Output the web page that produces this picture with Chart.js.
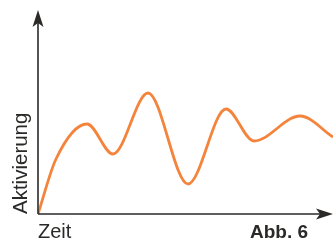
<!DOCTYPE html>
<html>
<head>
<meta charset="utf-8">
<script src="https://cdn.jsdelivr.net/npm/chart.js@4"></script>
<style>
  html, body { margin: 0; padding: 0; background: #fff; }
  #wrap { width: 333px; height: 241px; position: relative; }
</style>
</head>
<body>
<div id="wrap"><canvas id="chart"></canvas></div>
<script>
// Zeit (x) and Aktivierung (y) values
const zeit = [0, 18, 49, 75, 110, 150, 188, 216, 262, 295];
const aktivierung = [0, 55, 90, 60, 121, 30, 105, 73, 98, 77];

const xLabel = 'Zeit';
const yLabel = 'Aktivierung';
const figLabel = 'Abb. 6';

const ink = '#2b2a29';

// axes with arrow heads + labels
const axisPlugin = {
  id: 'axes',
  afterDraw(chart) {
    const { ctx, chartArea } = chart;
    const x0 = chartArea.left, y0 = chartArea.bottom;
    ctx.save();
    ctx.strokeStyle = ink;
    ctx.fillStyle = ink;
    ctx.lineWidth = 1.6;
    ctx.beginPath();
    ctx.moveTo(x0, y0);
    ctx.lineTo(x0, chartArea.top + 8);
    ctx.moveTo(x0, y0);
    ctx.lineTo(chartArea.right - 8, y0);
    ctx.stroke();

    // y arrow
    const t = chartArea.top;
    ctx.beginPath();
    ctx.moveTo(x0, t);
    ctx.lineTo(x0 + 5.5, t + 17);
    ctx.lineTo(x0, t + 13);
    ctx.lineTo(x0 - 5.5, t + 17);
    ctx.closePath();
    ctx.fill();

    // x arrow
    const r = chartArea.right;
    ctx.beginPath();
    ctx.moveTo(r, y0);
    ctx.lineTo(r - 17, y0 - 5.5);
    ctx.lineTo(r - 13, y0);
    ctx.lineTo(r - 17, y0 + 5.5);
    ctx.closePath();
    ctx.fill();

    ctx.font = '20px "Liberation Sans", Arial, sans-serif';
    ctx.textBaseline = 'alphabetic';
    ctx.textAlign = 'left';
    ctx.fillText(xLabel, x0, 238);

    ctx.font = 'bold 19px "Liberation Sans Narrow", "Liberation Sans", Arial, sans-serif';
    ctx.textAlign = 'right';
    ctx.fillText(figLabel, 308, 238);

    ctx.translate(27, y0);
    ctx.rotate(-Math.PI / 2);
    ctx.font = '20.5px "Liberation Sans", Arial, sans-serif';
    ctx.textAlign = 'left';
    ctx.fillText(yLabel, 0, 0);
    ctx.restore();
  }
};

new Chart(document.getElementById('chart'), {
  type: 'line',
  data: {
    datasets: [{
      data: zeit.map((z, i) => ({ x: z, y: aktivierung[i] })),
      borderColor: '#f4843c',
      borderWidth: 2.8,
      pointRadius: 0,
      cubicInterpolationMode: 'monotone',
      fill: false,
    }],
  },
  options: {
    responsive: true,
    maintainAspectRatio: false,
    animation: false,
    layout: { padding: { left: 38, right: 0, top: 10, bottom: 27 } },
    scales: {
      x: { type: 'linear', min: 0, max: 295, display: false },
      y: { min: 0, max: 204, display: false },
    },
    plugins: {
      legend: { display: false },
      tooltip: { enabled: false },
    },
  },
  plugins: [axisPlugin],
});
</script>
</body>
</html>
